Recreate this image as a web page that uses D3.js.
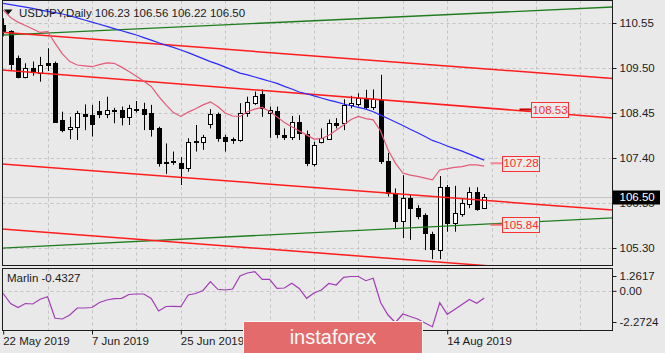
<!DOCTYPE html>
<html>
<head>
<meta charset="utf-8">
<script src="https://cdn.jsdelivr.net/npm/d3@7"></script>
<style>
  html, body { margin: 0; padding: 0; background: #e9e9e9; }
  svg { display: block; font-family: 'Liberation Sans', Arial, sans-serif; }
</style>
</head>
<body>
<svg id="chart" width="665" height="353"></svg>
<script>
// ---- data ----
const chartTitle = 'USDJPY,Daily 106.23 106.56 106.22 106.50';
const indicatorName = 'Marlin -0.4327';
const lastPrice = 106.50;

// the 11 Jul / 29 Jul labels sit under the watermark, so only visible dates are kept
const dateTicks = [0, 12, 24, 60];
const dateLabels = ['22 May 2019', '7 Jun 2019', '25 Jun 2019', '14 Aug 2019'];
const priceTicks = [110.55, 109.50, 108.45, 107.40, 106.35, 105.30];
const marlinTicks = [1.2617, 0, -2.2724];
const marlinTickLabels = ['1.2617', '0.00', '-2.2724'];

const opens = [110.50, 110.36, 109.73, 109.29, 109.51, 109.38, 109.62, 109.61, 108.29, 108.07,
  108.13, 108.43, 108.40, 108.50, 108.43, 108.51, 108.52, 108.36, 108.53, 108.54,
  108.44, 108.09, 107.31, 107.32, 107.28, 107.16, 107.77, 107.78, 108.19, 108.42,
  107.90, 107.84, 107.83, 108.46, 108.69, 108.89, 108.45, 108.50, 107.93, 107.90,
  108.25, 107.96, 107.26, 107.78, 107.84, 108.22, 108.21, 108.64, 108.65, 108.77,
  108.58, 108.75, 107.34, 106.58, 105.93, 106.47, 106.24, 106.07, 105.63, 105.25,
  106.73, 105.88, 106.09, 106.33, 106.61, 106.23];
const highs = [110.66, 110.38, 109.79, 109.61, 109.65, 109.76, 109.96, 109.65, 108.48, 108.36,
  108.50, 108.65, 108.64, 108.73, 108.83, 108.57, 108.60, 108.64, 108.73, 108.69,
  108.64, 108.13, 107.74, 107.55, 107.42, 107.86, 108.17, 107.94, 108.54, 108.46,
  107.94, 107.88, 108.68, 108.83, 108.95, 109.00, 108.60, 108.60, 108.09, 108.38,
  108.40, 108.04, 107.78, 108.09, 108.30, 108.33, 108.77, 108.85, 108.91, 108.99,
  109.00, 109.34, 107.52, 106.69, 107.00, 106.54, 106.30, 106.11, 105.68, 106.98,
  106.77, 106.75, 106.46, 106.72, 106.72, 106.56];
const lows = [110.24, 109.45, 109.26, 109.26, 109.32, 109.18, 109.43, 108.24, 108.00, 107.84,
  107.82, 108.05, 107.90, 108.33, 108.33, 108.21, 108.16, 108.17, 108.46, 108.05,
  107.90, 107.20, 107.03, 107.24, 106.77, 107.08, 107.55, 107.59, 108.09, 107.78,
  107.55, 107.73, 107.78, 108.36, 108.64, 108.36, 107.87, 107.86, 107.82, 107.82,
  107.82, 107.21, 107.20, 107.74, 107.82, 108.09, 108.05, 108.56, 108.60, 108.52,
  108.52, 107.26, 106.50, 105.76, 105.53, 105.49, 105.97, 105.25, 105.04, 105.04,
  105.68, 105.68, 106.03, 106.23, 106.17, 106.22];
const closes = [110.33, 109.59, 109.30, 109.51, 109.40, 109.57, 109.58, 108.25, 108.05, 108.13,
  108.46, 108.39, 108.19, 108.43, 108.51, 108.49, 108.36, 108.56, 108.55, 108.43,
  108.08, 107.28, 107.29, 107.30, 107.16, 107.78, 107.79, 107.88, 108.42, 107.86,
  107.80, 107.82, 108.46, 108.71, 108.85, 108.56, 108.51, 107.95, 107.88, 108.25,
  107.98, 107.28, 107.70, 107.86, 108.22, 108.17, 108.64, 108.69, 108.79, 108.60,
  108.77, 107.34, 106.59, 105.93, 106.46, 106.24, 106.05, 105.64, 105.27, 106.73,
  105.88, 106.11, 106.34, 106.61, 106.20, 106.50];

// slow moving average (blue)
const maSlow = [111.01, 110.98, 110.95, 110.92, 110.89, 110.85, 110.82, 110.79, 110.76, 110.72,
  110.67, 110.62, 110.57, 110.52, 110.47, 110.42, 110.37, 110.32, 110.27, 110.21,
  110.15, 110.09, 110.03, 109.98, 109.92, 109.86, 109.79, 109.72, 109.65, 109.59,
  109.52, 109.45, 109.38, 109.34, 109.29, 109.24, 109.19, 109.14, 109.07, 109.01,
  108.94, 108.90, 108.85, 108.80, 108.75, 108.71, 108.66, 108.62, 108.58, 108.54,
  108.48, 108.40, 108.32, 108.24, 108.16, 108.07, 107.99, 107.90, 107.81, 107.75,
  107.68, 107.62, 107.56, 107.49, 107.42, 107.35];
// fast moving average (pink)
const maFast = [110.85, 110.68, 110.57, 110.49, 110.41, 110.33, 110.35, 110.08, 109.83, 109.65,
  109.57, 109.55, 109.53, 109.58, 109.62, 109.61, 109.52, 109.42, 109.31, 109.19,
  109.07, 108.84, 108.64, 108.46, 108.37, 108.47, 108.55, 108.64, 108.71, 108.60,
  108.45, 108.38, 108.37, 108.48, 108.54, 108.58, 108.49, 108.36, 108.23, 108.13,
  108.03, 107.94, 107.84, 107.85, 107.93, 108.05, 108.17, 108.30, 108.37, 108.32,
  108.29, 108.03, 107.59, 107.28, 107.05, 107.00, 106.97, 106.93, 106.89, 107.12,
  107.15, 107.18, 107.20, 107.24, 107.24, 107.21];

const marlin = [-0.139, -0.782, -1.039, -0.782, -0.814, -0.512, -0.345, -1.733, -1.778, -1.521,
  -1.071, -1.071, -1.039, -0.718, -0.557, -0.473, -0.448, -0.204, -0.171, -0.171,
  -0.460, -1.264, -0.975, -0.962, -0.988, -0.236, -0.139, 0.054, 0.619, 0.131,
  0.086, 0.150, 0.985, 1.178, 1.2617, 0.773, 0.773, 0.195, 0.214, 0.516,
  0.182, -0.448, -0.107, 0.086, 0.503, 0.407, 0.902, 0.953, 0.953, 0.683,
  0.838, -0.718, -1.521, -2.003, -1.456, -1.617, -1.778, -2.035, -2.2724, -0.730,
  -1.476, -1.167, -0.846, -0.525, -0.769, -0.4327];

// channel lines: price at bar 0 and at bar 82
const redChannelStart = [110.33, 109.45, 107.26, 105.74];
const redChannelEnd = [109.26, 108.34, 106.19, 104.67];
const greenChannelStart = [110.27, 105.30];
const greenChannelEnd = [110.92, 106.00];
const channelEndBar = 82;

// price labels on the right side of the chart
const priceLabels = [108.53, 107.28, 105.84];
const priceLabelBars = [71.3, 67.4, 67.4];

// ---- layout ----
const svg = d3.select('#chart');
const plotL = 2.5, plotR = 612.5;
const mainT = 0.5, mainB = 265.5;
const indT = 268.5, indB = 330.5;
const axisColor = '#1c1c1c';
const fontSize = '11.5px';

const x = d3.scaleLinear().domain([0, 65]).range([3.2, 484.2]);
const y = d3.scaleLinear().domain([105.30, 110.55]).range([248, 23]);
const yInd = d3.scaleLinear().domain([-2.2724, 1.2617]).range([326.7, 271.7]);

svg.append('rect').attr('width', 665).attr('height', 353).attr('fill', '#e9e9e9');

const defs = svg.append('defs');
defs.append('clipPath').attr('id', 'clipMain').append('rect')
    .attr('x', plotL).attr('y', mainT).attr('width', plotR - plotL).attr('height', mainB - mainT);
defs.append('clipPath').attr('id', 'clipInd').append('rect')
    .attr('x', plotL).attr('y', indT).attr('width', plotR - plotL).attr('height', indB - indT);

// Grid
const gridBars = d3.range(6, 84, 6);
const grid = svg.append('g').attr('stroke', '#c3c3c3').attr('stroke-dasharray', '3,3').attr('stroke-width', 1);
gridBars.forEach(b => {
    const gx = Math.round(x(b)) + 0.5;
    grid.append('line').attr('x1', gx).attr('x2', gx).attr('y1', mainT).attr('y2', mainB);
    grid.append('line').attr('x1', gx).attr('x2', gx).attr('y1', indT).attr('y2', indB);
});
priceTicks.forEach(p => {
    const gy = Math.round(y(p)) + 0.5;
    grid.append('line').attr('x1', plotL).attr('x2', plotR).attr('y1', gy).attr('y2', gy);
});
grid.append('line').attr('x1', plotL).attr('x2', plotR)
    .attr('y1', Math.round(yInd(0)) + 0.5).attr('y2', Math.round(yInd(0)) + 0.5);

// Main panel content
const main = svg.append('g').attr('clip-path', 'url(#clipMain)');

// current price line
main.append('line')
    .attr('x1', plotL).attr('x2', plotR)
    .attr('y1', Math.round(y(lastPrice)) + 0.5).attr('y2', Math.round(y(lastPrice)) + 0.5)
    .attr('stroke', '#c4c4c4').attr('stroke-width', 1);

// Candles
const candles = opens.map((o, i) => ({ i, o, h: highs[i], l: lows[i], c: closes[i] }));
const cg = main.append('g');
cg.selectAll('line.wick').data(candles).join('line')
    .attr('class', 'wick')
    .attr('x1', d => Math.round(x(d.i)) + 0.5).attr('x2', d => Math.round(x(d.i)) + 0.5)
    .attr('y1', d => y(d.h)).attr('y2', d => y(d.l))
    .attr('stroke', '#000').attr('stroke-width', 1);
cg.selectAll('rect.body').data(candles).join('rect')
    .attr('class', 'body')
    .attr('x', d => Math.round(x(d.i)) - 1.5)
    .attr('width', 4)
    .attr('y', d => Math.round(y(Math.max(d.o, d.c))) + 0.5)
    .attr('height', d => Math.max(1, Math.round(y(Math.min(d.o, d.c))) - Math.round(y(Math.max(d.o, d.c)))))
    .attr('fill', d => d.c >= d.o ? '#ffffff' : '#000000')
    .attr('stroke', '#000').attr('stroke-width', 1);

// Channel lines
function channelLine(p0, p1, color, width) {
    const slope = (p1 - p0) / channelEndBar;
    const b0 = -2, b1 = channelEndBar + 3;
    main.append('line')
        .attr('x1', x(b0)).attr('y1', y(p0 + slope * b0))
        .attr('x2', x(b1)).attr('y2', y(p0 + slope * b1))
        .attr('stroke', color).attr('stroke-width', width);
}
greenChannelStart.forEach((p, k) => channelLine(p, greenChannelEnd[k], '#1f7d1f', 1.3));
redChannelStart.forEach((p, k) => channelLine(p, redChannelEnd[k], '#ff1c1c', 1.5));

// Moving averages
const maLine = d3.line().x((d, i) => x(i)).y(d => y(d));
main.append('path').datum(maSlow).attr('d', maLine)
    .attr('fill', 'none').attr('stroke', '#2b2bff').attr('stroke-width', 1.2);
main.append('path').datum(maFast).attr('d', maLine)
    .attr('fill', 'none').attr('stroke', '#e45a78').attr('stroke-width', 1.2);

// Price label boxes
const leadColors = ['#c40000', '#f08898', '#f07070'];
priceLabels.forEach((p, k) => {
    const bx = Math.round(x(priceLabelBars[k])) + 0.5;
    const by = y(p);
    main.append('line').attr('x1', bx - 12).attr('x2', bx).attr('y1', by).attr('y2', by)
        .attr('stroke', leadColors[k]).attr('stroke-width', 2);
    main.append('rect').attr('x', bx).attr('y', Math.round(by - 7.5) + 0.5)
        .attr('width', 37).attr('height', 15)
        .attr('fill', '#ebebeb').attr('stroke', '#ff3030').attr('stroke-width', 1);
    main.append('text').attr('x', bx + 18.5).attr('y', by).attr('dy', '0.36em')
        .attr('text-anchor', 'middle').attr('fill', '#ff2a2a').style('font-size', fontSize)
        .text(p.toFixed(2));
});

// Indicator panel
const ind = svg.append('g').attr('clip-path', 'url(#clipInd)');
ind.append('path').datum(marlin)
    .attr('d', d3.line().x((d, i) => x(i)).y(d => yInd(d)))
    .attr('fill', 'none').attr('stroke', '#a33bb7').attr('stroke-width', 1.2);

// Frames
svg.append('rect').attr('x', plotL).attr('y', mainT).attr('width', plotR - plotL).attr('height', mainB - mainT)
    .attr('fill', 'none').attr('stroke', axisColor);
svg.append('rect').attr('x', plotL).attr('y', indT).attr('width', plotR - plotL).attr('height', indB - indT)
    .attr('fill', 'none').attr('stroke', axisColor);

function styleAxis(g) {
    g.attr('font-family', null).attr('font-size', null);
    g.select('.domain').remove();
    g.selectAll('.tick line').attr('stroke', axisColor);
    g.selectAll('.tick text').attr('fill', axisColor).style('font-size', fontSize);
}

// Right price axis
svg.append('g').attr('transform', `translate(${plotR},0)`)
    .call(d3.axisRight(y).tickValues(priceTicks).tickFormat(d3.format('.2f')).tickSize(4).tickPadding(3))
    .call(styleAxis);

// Current price marker
svg.append('rect').attr('x', 613).attr('y', Math.round(y(lastPrice)) - 6.5).attr('width', 47).attr('height', 14)
    .attr('fill', '#000');
svg.append('text').attr('x', 619.5).attr('y', y(lastPrice)).attr('dy', '0.36em')
    .attr('fill', '#fff').style('font-size', fontSize).text(lastPrice.toFixed(2));

// Indicator axis
const indAxis = svg.append('g').attr('transform', `translate(${plotR},0)`)
    .call(d3.axisRight(yInd).tickValues(marlinTicks).tickFormat((d, i) => marlinTickLabels[i]).tickSize(4).tickPadding(3))
    .call(styleAxis);
indAxis.selectAll('.tick').attr('transform', d => {
    const ty = Math.min(indB - 8, Math.max(indT + 8, yInd(d)));
    return `translate(0,${ty})`;
});

// Bottom date axis
const xAxisG = svg.append('g').attr('transform', `translate(0,${indB})`)
    .call(d3.axisBottom(x).tickValues(dateTicks).tickFormat((d, i) => dateLabels[i]).tickSize(4).tickPadding(2))
    .call(styleAxis);
xAxisG.selectAll('.tick text').attr('text-anchor', 'start').attr('x', -0.5);

// Title
svg.append('path').attr('d', 'M4,9.5 L12.5,9.5 L8.25,14.5 Z').attr('fill', '#111');
svg.append('text').attr('x', 19).attr('y', 17).attr('fill', '#1a1a1a').style('font-size', fontSize)
    .text(chartTitle);
svg.append('text').attr('x', 7).attr('y', 282).attr('fill', '#1a1a1a').style('font-size', fontSize)
    .text(indicatorName);

// Watermark logo
svg.append('rect').attr('x', 243.5).attr('y', 321.5).attr('width', 179).attr('height', 33)
    .attr('fill', '#e46b6b').attr('stroke', '#f6f6f6').attr('stroke-width', 1);
svg.append('text').attr('x', 333).attr('y', 343.5).attr('text-anchor', 'middle')
    .attr('fill', '#fbfbfb').style('font-size', '20px').text('instaforex');
</script>
</body>
</html>
